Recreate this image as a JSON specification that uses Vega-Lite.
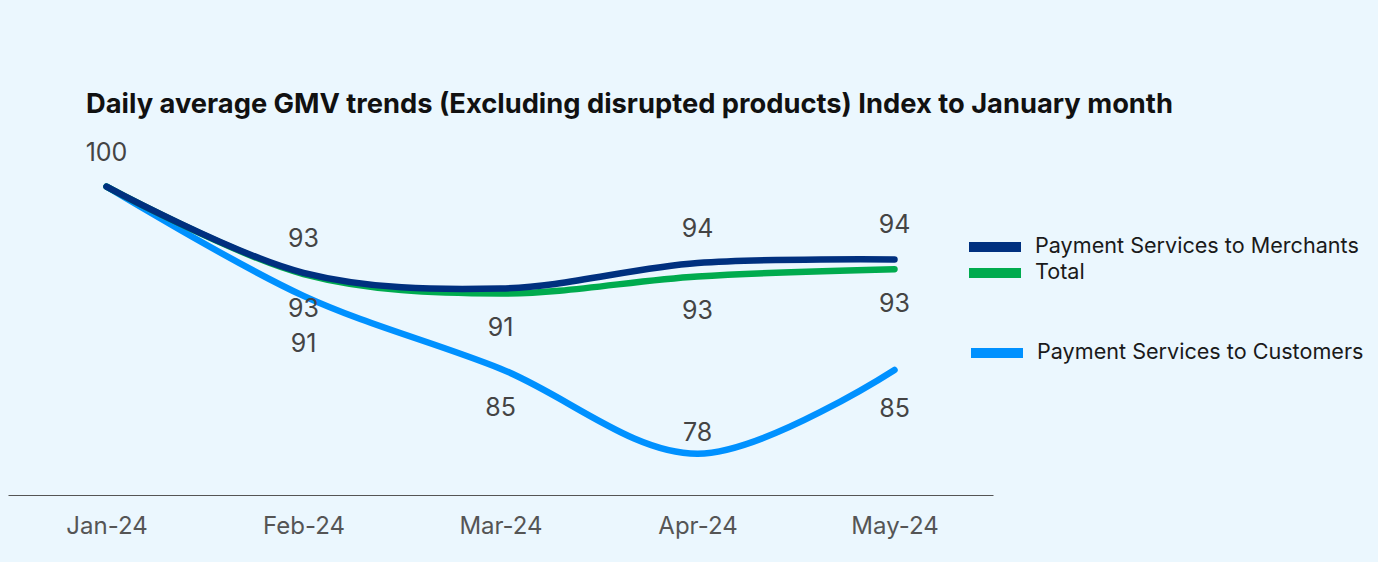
{
  "$schema": "https://vega.github.io/schema/vega-lite/v6.json",
  "autosize": {"type": "none"},
  "width": 985,
  "height": 357,
  "padding": {"left": 8, "top": 138, "right": 385, "bottom": 67},
  "background": "#EBF7FE",
  "title": {
    "text": "Daily average GMV trends (Excluding disrupted products) Index to January month",
    "anchor": "start",
    "frame": "group",
    "dx": 78,
    "offset": 20,
    "font": "Inter",
    "fontSize": 27.3,
    "fontWeight": "bold",
    "color": "#111111"
  },
  "config": {
    "view": {"stroke": null},
    "font": "Inter"
  },
  "data": {
    "values": [
      {"month": "Jan-24", "series": "Payment Services to Customers", "value": 100},
      {"month": "Feb-24", "series": "Payment Services to Customers", "value": 91},
      {"month": "Mar-24", "series": "Payment Services to Customers", "value": 85},
      {"month": "Apr-24", "series": "Payment Services to Customers", "value": 78},
      {"month": "May-24", "series": "Payment Services to Customers", "value": 84.9},
      {"month": "Jan-24", "series": "Total", "value": 100},
      {"month": "Feb-24", "series": "Total", "value": 92.8},
      {"month": "Mar-24", "series": "Total", "value": 91.2},
      {"month": "Apr-24", "series": "Total", "value": 92.6},
      {"month": "May-24", "series": "Total", "value": 93.2},
      {"month": "Jan-24", "series": "Payment Services to Merchants", "value": 100},
      {"month": "Feb-24", "series": "Payment Services to Merchants", "value": 92.9},
      {"month": "Mar-24", "series": "Payment Services to Merchants", "value": 91.6},
      {"month": "Apr-24", "series": "Payment Services to Merchants", "value": 93.7},
      {"month": "May-24", "series": "Payment Services to Merchants", "value": 94}
    ]
  },
  "encoding": {
    "x": {
      "field": "month",
      "type": "ordinal",
      "sort": null,
      "scale": {"type": "point", "padding": 0.5},
      "axis": {
        "title": null,
        "labelAngle": 0,
        "ticks": false,
        "grid": false,
        "domainColor": "#555555",
        "domainWidth": 1,
        "labelColor": "#555555",
        "labelFont": "Inter",
        "labelFontSize": 24,
        "labelPadding": 19
      }
    },
    "y": {
      "field": "value",
      "type": "quantitative",
      "scale": {"domain": [74.6, 104], "zero": false, "nice": false},
      "axis": null
    }
  },
  "layer": [
    {
      "transform": [{"filter": "datum.series === 'Payment Services to Customers'"}],
      "mark": {"type": "line", "interpolate": "catmull-rom", "strokeWidth": 6.5, "strokeCap": "round"},
      "encoding": {
        "color": {
          "field": "series",
          "type": "nominal",
          "scale": {"domain": ["Payment Services to Customers"], "range": ["#0091FF"]},
          "legend": {
            "title": null,
            "orient": "none",
            "legendX": 958,
            "legendY": 205,
            "padding": 0,
            "symbolType": "stroke",
            "symbolSize": 2704,
            "symbolStrokeWidth": 10,
            "labelFont": "Inter",
            "labelFontSize": 21.6,
            "labelColor": "#1a1a1a",
            "labelOffset": 9,
            "labelLimit": 400,
            "clipHeight": 20
          }
        }
      }
    },
    {
      "transform": [{"filter": "datum.series !== 'Payment Services to Customers'"}],
      "mark": {"type": "line", "interpolate": "catmull-rom", "strokeWidth": 6.5, "strokeCap": "round"},
      "encoding": {
        "color": {
          "field": "series",
          "type": "nominal",
          "sort": ["Payment Services to Merchants", "Total"],
          "scale": {"domain": ["Payment Services to Merchants", "Total"], "range": ["#00307F", "#00AB4E"]},
          "legend": {
            "title": null,
            "orient": "none",
            "legendX": 956,
            "legendY": 99,
            "padding": 0,
            "rowPadding": 4,
            "symbolType": "stroke",
            "symbolSize": 2704,
            "symbolStrokeWidth": 10,
            "labelFont": "Inter",
            "labelFontSize": 21.6,
            "labelColor": "#1a1a1a",
            "labelOffset": 9,
            "labelLimit": 400,
            "clipHeight": 20
          }
        }
      }
    },
    {
      "transform": [{"filter": "datum.series === 'Payment Services to Merchants' && datum.month !== 'Mar-24'"}],
      "mark": {"type": "text", "dy": -34, "font": "Inter", "fontSize": 25, "color": "#444444"},
      "encoding": {"text": {"field": "value", "type": "quantitative", "format": ".0f"}}
    },
    {
      "transform": [{"filter": "datum.series === 'Total' && datum.month !== 'Jan-24'"}],
      "mark": {"type": "text", "dy": 35, "font": "Inter", "fontSize": 25, "color": "#444444"},
      "encoding": {"text": {"field": "value", "type": "quantitative", "format": ".0f"}}
    },
    {
      "transform": [{"filter": "datum.series === 'Payment Services to Customers' && (datum.month === 'Mar-24' || datum.month === 'May-24')"}],
      "mark": {"type": "text", "dy": 39, "font": "Inter", "fontSize": 25, "color": "#444444"},
      "encoding": {"text": {"field": "value", "type": "quantitative", "format": ".0f"}}
    },
    {
      "transform": [{"filter": "datum.series === 'Payment Services to Customers' && datum.month === 'Feb-24'"}],
      "mark": {"type": "text", "dy": 48, "font": "Inter", "fontSize": 25, "color": "#444444"},
      "encoding": {"text": {"field": "value", "type": "quantitative", "format": ".0f"}}
    },
    {
      "transform": [{"filter": "datum.series === 'Payment Services to Customers' && datum.month === 'Apr-24'"}],
      "mark": {"type": "text", "dy": -21, "font": "Inter", "fontSize": 25, "color": "#444444"},
      "encoding": {"text": {"field": "value", "type": "quantitative", "format": ".0f"}}
    }
  ],
  "resolve": {"scale": {"color": "independent"}}
}
